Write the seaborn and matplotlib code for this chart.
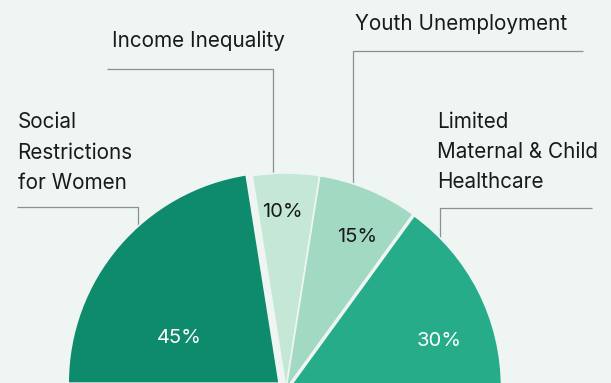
import matplotlib
matplotlib.use("Agg")
import matplotlib.pyplot as plt
import seaborn as sns

# ---- data ----
categories = ["Social\nRestrictions\nfor Women", "Income Inequality",
              "Youth Unemployment", "Limited\nMaternal & Child\nHealthcare"]
values = [45, 10, 15, 30]
slice_colors = ["#0E8A6C", "#C5E7D6", "#A2D9C2", "#26AC88"]
pct_colors = ["white", "#1A1A1A", "#1A1A1A", "white"]

BG = "#EFF5F3"
sns.set_theme(style="white", rc={"figure.facecolor": BG, "axes.facecolor": BG})
plt.rcParams["font.family"] = ["Inter", "DejaVu Sans"]

fig = plt.figure(figsize=(6.11, 3.83), dpi=100)
ax = fig.add_axes([0, 0, 1, 1])
ax.set_facecolor(BG)

# semicircle: add hidden half equal to the total
total = sum(values)
pie_vals = values + [total]
explode = [9, 0, 0, 4, 0]
wedges, _ = ax.pie(pie_vals, colors=slice_colors + ["none"], startangle=180,
                   counterclock=True, center=(286, 389), radius=216,
                   explode=explode,
                   wedgeprops=dict(edgecolor=BG, linewidth=1.2), frame=True)
wedges[-1].set_visible(False)
wedges[0].set_radius(211)
wedges[3].set_radius(212)
for w in wedges:
    w.set_zorder(3)

ax.set_xlim(0, 611)
ax.set_ylim(383, 0)
ax.set_aspect("auto")
ax.axis("off")

# percentage labels
pct_pos = [(179, 343.3), (282.5, 217.3), (357, 241.7), (439, 346)]
for v, (x, y), c in zip(values, pct_pos, pct_colors):
    ax.text(x, y, f"{v}%", ha="center", va="baseline", fontsize=14.5, color=c, zorder=5)

# category labels (y = baseline of last line) + leader lines
LC = "#8E8E8E"
label_pos = [(17.5, 189.3), (112.5, 47.3), (355, 30), (437, 188.5)]
leaders = [
    [(16.7, 207.3), (137.7, 207.3), (137.7, 232)],
    [(106.7, 69.3), (273.3, 69.3), (273.3, 178)],
    [(582.7, 51), (352.7, 51), (352.7, 186)],
    [(592, 207.7), (439.5, 207.7), (439.5, 240)],
]
for lab, (x, y) in zip(categories, label_pos):
    ax.text(x, y, lab, ha="left", va="baseline", fontsize=14.9, color="#1A1A1A",
            linespacing=1.65)
for pts in leaders:
    xs = [p[0] for p in pts]
    ys = [p[1] for p in pts]
    ax.plot(xs, ys, color=LC, lw=0.9, zorder=1, solid_capstyle="butt")

fig.savefig("out.png", dpi=100, facecolor=BG)
